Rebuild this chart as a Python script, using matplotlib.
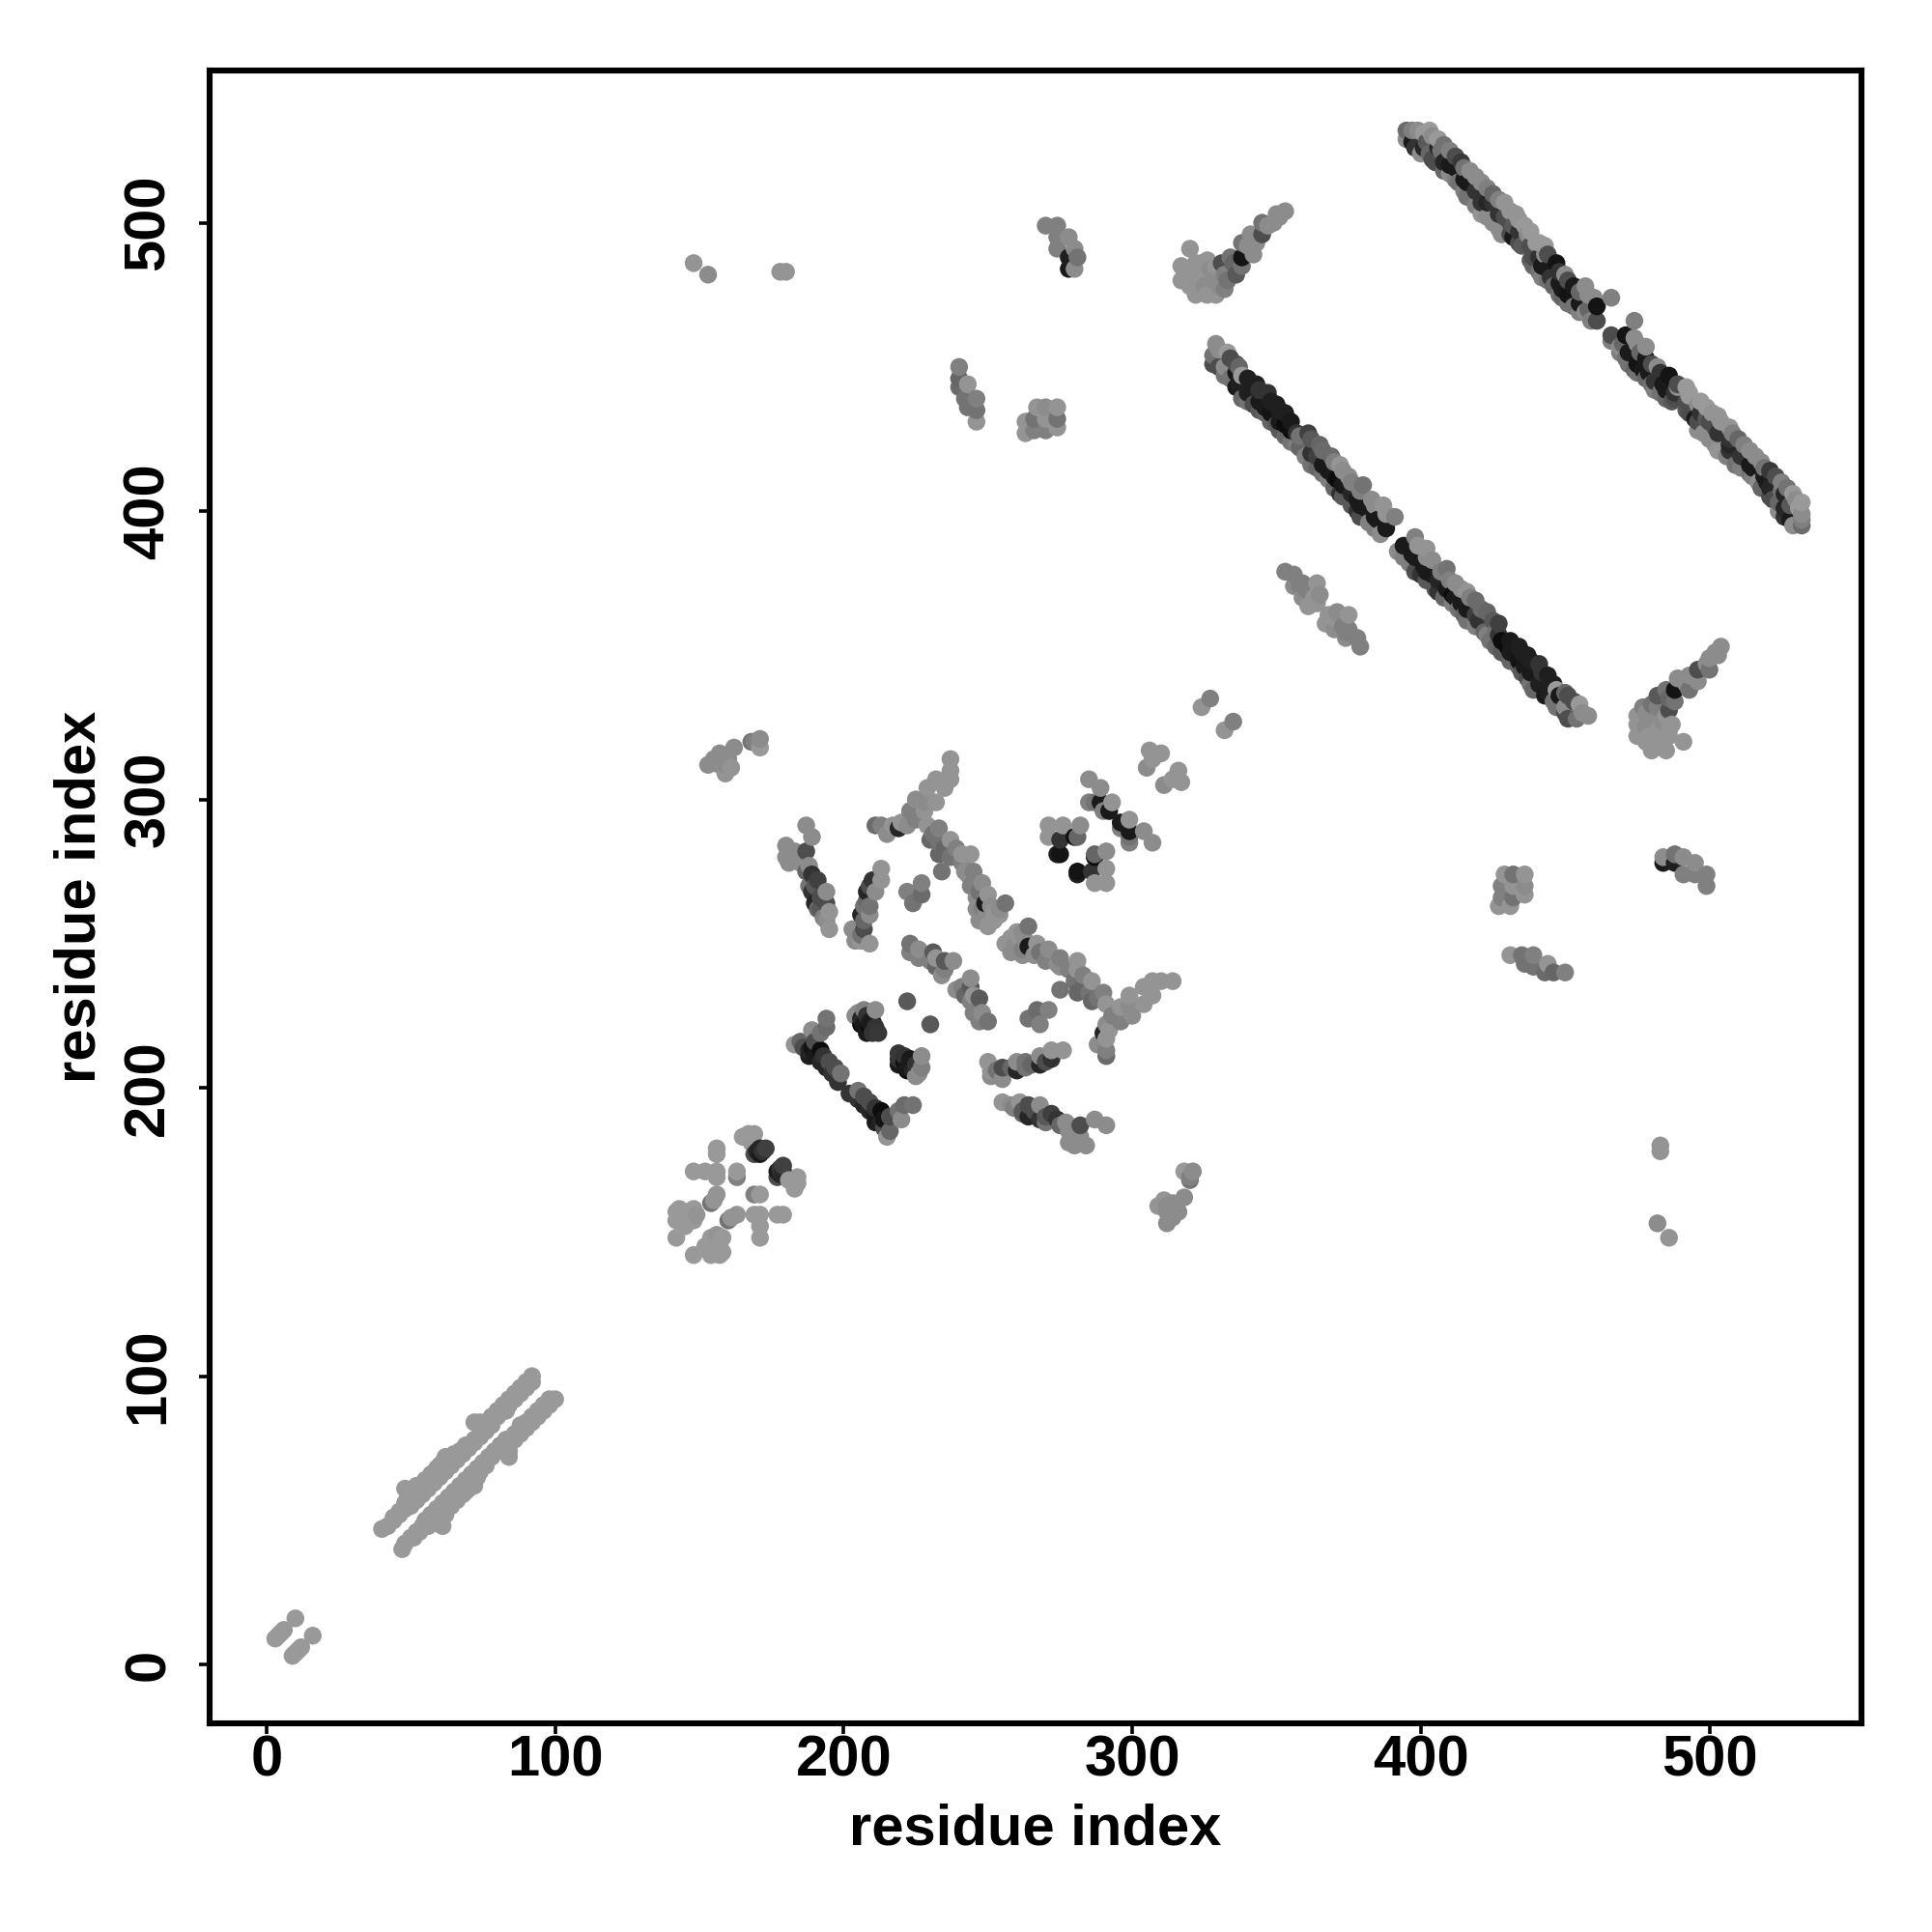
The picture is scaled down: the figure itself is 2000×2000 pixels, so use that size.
import numpy as np
from matplotlib import pyplot as plt

# contacts above the diagonal as (residue i, residue j, grey level), the map is symmetric
nterm = [(3, 9, .6), (4, 10, .6), (5, 11, .6), (6, 12, .6), (10, 16, .6)]

helix_a = [(40, 47, .6), (42, 48, .6), (44, 50, .6), (44, 51, .6), (46, 52, .6), (46, 53, .6),
           (48, 54, .6), (48, 56, .6), (48, 61, .6), (49, 58, .6), (50, 55, .6), (50, 56, .6),
           (51, 60, .6), (52, 57, .6), (52, 59, .6), (52, 62, .6), (53, 62, .6), (54, 59, .6),
           (54, 60, .6), (55, 64, .6), (56, 61, .6), (56, 62, .6), (57, 66, .6), (58, 63, .6),
           (58, 64, .6), (58, 66, .6), (59, 68, .6), (60, 65, .6), (60, 66, .6), (60, 69, .6),
           (61, 70, .6), (62, 67, .6), (62, 68, .6), (62, 72, .6), (63, 71, .6), (64, 69, .6),
           (64, 70, .6), (65, 73, .6), (66, 71, .6), (66, 73, .6), (67, 74, .6), (68, 73, .6),
           (69, 76, .6), (70, 75, .6), (70, 76, .6), (72, 77, .6), (72, 78, .6), (72, 84, .6),
           (74, 79, .6), (74, 80, .6), (74, 82, .6), (74, 84, .6), (76, 81, .6), (76, 82, .6),
           (76, 84, .6), (78, 83, .6), (78, 84, .6), (78, 86, .6), (80, 86, .6), (80, 88, .6),
           (82, 90, .6), (83, 88, .6), (84, 90, .6), (84, 92, .6), (86, 92, .6), (86, 94, .6),
           (88, 94, .6), (88, 96, .6), (90, 96, .6), (90, 98, .6), (92, 98, .6), (92, 100, .6)]

cluster_c = [(142, 157, .6), (142, 154, .6), (142, 148, .6), (145, 157, .6), (145, 152, .6),
             (148, 154, .6), (149, 156, .58), (148, 171, .6), (152, 171, .6), (156, 171, .6),
             (156, 169, .6), (156, 179, .6), (156, 177, .6), (143, 154, .6), (143, 158, .6),
             (148, 158, .6), (154, 160, .45), (155, 161, .58), (156, 163, .58), (163, 169, .5),
             (163, 171, .6), (165, 183, .6), (167, 184, .6), (169, 184, .6), (168, 181, .6),
             (169, 177, .3), (170, 178, .15), (171, 179, .15), (171, 177, .1), (172, 178, .2),
             (173, 179, .25)]

top_left = [(148, 486, .58), (153, 482, .55), (178, 483, .58), (180, 483, .58)]

strip_170 = [(153, 312, .55), (155, 314, .55), (157, 316, .55), (157, 312, .55), (159, 312, .55),
             (159, 309, .58), (160, 314, .55), (161, 311, .58), (162, 318, .55), (168, 320, .45),
             (169, 320, .5), (171, 321, .55), (171, 318, .6)]

feature_a = [(187, 291, .55), (189, 287, .55), (182, 282, .55), (180, 280, .55), (183, 282, .55),
             (180, 284, .55), (187, 282, .3), (185, 278, .55), (188, 277, .55), (181, 278, .55),
             (191, 272, .25), (189, 268, .2), (194, 268, .55), (194, 264, .3), (195, 261, .58),
             (192, 262, .35), (195, 255, .58), (187, 275, .4), (188, 270, .45), (190, 264, .15),
             (193, 259, .5), (189, 274, .2), (190, 270, .35), (192, 266, .3), (191, 262, .4),
             (194, 258, .55)]

feature_b = [(213, 276, .58), (213, 272, .58), (211, 268, .55), (210, 272, .2), (208, 268, .15),
             (207, 263, .45), (209, 263, .45), (206, 260, .15), (209, 260, .55), (207, 255, .3),
             (203, 255, .55), (206, 251, .58), (209, 250, .58), (204, 251, .55), (209, 270, .3),
             (208, 265, .4), (207, 258, .4), (206, 253, .45)]

feature_c = [(227, 271, .5), (222, 268, .5), (227, 267, .42), (224, 264, .45)]

feature_d = [(237, 314, .58), (237, 310, .58), (237, 307, .58), (232, 307, .58), (235, 304, .58),
             (229, 304, .58), (225, 300, .55), (228, 299, .55), (232, 299, .58), (223, 296, .5),
             (228, 296, .58), (220, 292, .58), (225, 293, .5), (211, 291, .42), (213, 291, .5),
             (217, 291, .58), (215, 288, .55), (219, 290, .15), (222, 291, .55)]

feature_e = [(229, 291, .58), (233, 290, .5), (230, 286, .4), (237, 286, .58), (233, 285, .45),
             (233, 281, .4), (237, 280, .45), (241, 281, .58), (244, 281, .58), (234, 275, .45),
             (245, 275, .5), (242, 275, .55), (248, 271, .55), (244, 270, .5), (246, 266, .55),
             (250, 267, .58), (248, 262, .5), (247, 258, .55), (250, 256, .58), (252, 261, .58),
             (256, 264, .45), (251, 263, .55), (254, 260, .58), (231, 288, .45), (235, 283, .4),
             (239, 283, .5), (241, 278, .5), (243, 274, .55), (245, 271, .5), (246, 262, .55),
             (249, 259, .55), (252, 258, .58), (249, 264, .1), (254, 262, .55), (247, 268, .45)]

feature_g = [(194, 224, .45), (194, 221, .42), (189, 220, .55), (192, 219, .45), (183, 215, .58),
             (186, 214, .3), (188, 213, .15), (192, 213, .05), (188, 211, .12), (195, 209, .3),
             (192, 209, .15), (199, 205, .45), (196, 205, .2), (198, 202, .2), (185, 216, .4),
             (189, 214, .08), (190, 211, .1), (193, 211, .2), (194, 207, .15), (197, 207, .3),
             (190, 216, .3)]

feature_g2 = [(211, 227, .55), (207, 227, .5), (204, 225, .55), (212, 219, .22), (209, 223, .12),
              (207, 222, .1), (206, 224, .15), (208, 219, .1), (222, 230, .35), (205, 226, .55),
              (208, 225, .2), (210, 223, .1), (209, 221, .05), (211, 221, .2), (210, 219, .2),
              (206, 222, .05)]

feature_h = [(223, 250, .45), (226, 248, .55), (223, 247, .5), (231, 247, .35), (226, 245, .5),
             (230, 244, .5), (235, 244, .35), (238, 244, .55), (235, 241, .5), (232, 245, .58),
             (232, 242, .4), (234, 239, .55)]

group_240 = [(240, 450, .5), (240, 446, .4), (240, 443, .42), (243, 444, .58), (242, 439, .45),
             (246, 439, .5), (246, 435, .45), (246, 431, .58), (243, 436, .45)]

group_270 = [(267, 436, .58), (270, 436, .55), (274, 436, .58), (274, 432, .45), (274, 429, .58),
             (270, 432, .58), (266, 432, .45), (270, 428, .5), (263, 431, .58), (263, 427, .58),
             (266, 428, .5)]

group_275 = [(270, 499, .5), (274, 499, .5), (278, 495, .55), (274, 495, .5), (274, 491, .5),
             (280, 491, .55), (281, 488, .45), (278, 484, .1), (280, 484, .55), (278, 488, .12)]

x_cross = [(271, 291, .58), (276, 291, .58), (282, 291, .55), (271, 287, .58), (275, 286, .2),
           (275, 281, .08), (274, 281, .12), (280, 287, .05), (281, 287, .4)]

group_290 = [(285, 307, .55), (289, 304, .55), (287, 299, .45), (289, 299, .1), (293, 299, .58),
             (290, 296, .5), (292, 296, .1), (285, 299, .5)]

group_308 = [(305, 311, .55), (306, 317, .58), (307, 314, .58), (310, 316, .58)]

group_325 = [(327, 335, .5), (324, 332, .58)]

arm_330 = [(320, 491, .58), (317, 485, .58), (317, 480, .58), (322, 486, .58), (322, 475, .58),
           (326, 475, .58), (329, 475, .58), (327, 484, .55), (324, 482, .58), (322, 479, .58),
           (332, 477, .5), (331, 486, .3), (334, 488, .45), (336, 482, .35), (332, 482, .5),
           (338, 485, .45), (338, 488, .08), (338, 493, .45), (342, 489, .55), (341, 496, .55),
           (345, 500, .45), (345, 496, .3), (350, 503, .55), (353, 504, .55), (319, 483, .58),
           (320, 478, .58), (324, 486, .58), (325, 478, .55), (328, 480, .55), (330, 478, .55),
           (326, 487, .58), (329, 485, .58), (333, 480, .45), (335, 486, .4), (340, 492, .55),
           (343, 493, .55), (347, 499, .55), (349, 500, .55), (351, 502, .55)]

group_360 = [(353, 379, .5), (356, 378, .5), (356, 374, .55), (359, 375, .5), (359, 370, .55),
             (361, 367, .58), (364, 375, .58), (363, 370, .58), (364, 368, .58), (365, 371, .55),
             (358, 374, .5), (360, 373, .5)]

strand_low = [(328, 451, .3), (328, 454, .45), (329, 458, .55), (330, 450, .3), (330, 456, .55),
              (332, 447, .45), (332, 450, .55), (333, 455, .6), (334, 446, .45), (334, 453, .3),
              (336, 443, .1), (336, 448, .1), (336, 451, .3), (337, 444, .12), (337, 450, .4),
              (338, 439, .4), (338, 447, .6), (340, 438, .45), (340, 441, .12), (340, 446, .12),
              (342, 437, .3), (343, 444, .12), (344, 435, .35), (344, 438, .1), (344, 442, .2),
              (346, 434, .4), (346, 436, .1), (347, 441, .2), (348, 431, .4), (348, 434, .08),
              (348, 438, .12), (350, 430, .35), (350, 437, .12), (351, 428, .35), (351, 431, .1),
              (351, 435, .12), (353, 426, .4), (353, 430, .05), (353, 434, .12), (355, 424, .45),
              (355, 428, .05), (355, 431, .1), (357, 423, .5), (357, 427, .2), (358, 422, .4),
              (358, 426, .45), (360, 419, .5), (361, 427, .25), (362, 416, .45), (362, 420, .2),
              (362, 425, .35), (364, 415, .4), (364, 419, .25), (365, 423, .4), (366, 413, .45),
              (366, 416, .1), (366, 421, .42), (368, 411, .5), (368, 414, .1), (369, 419, .42),
              (370, 408, .4), (370, 412, .1), (370, 417, .5), (371, 411, .05), (372, 406, .2),
              (372, 416, .58), (373, 405, .35), (373, 409, .1), (373, 414, .55), (375, 412, .55),
              (376, 402, .35), (376, 406, .15), (376, 410, .5), (378, 400, .2), (378, 404, .1),
              (379, 398, .3), (379, 402, .1), (379, 407, .5), (380, 409, .45), (381, 401, .1),
              (382, 396, .5), (383, 404, .55), (384, 394, .5), (384, 398, .1), (384, 402, .55),
              (385, 397, .1), (386, 392, .55), (387, 402, .58), (388, 394, .1), (388, 399, .58),
              (391, 398, .5)]

strand_high = [(395, 532, .42), (395, 529, .55), (397, 528, .1), (397, 532, .5), (398, 526, .2),
               (399, 532, .55), (400, 524, .55), (401, 526, .15), (401, 531, .6), (402, 528, .35),
               (403, 524, .4), (403, 532, .6), (404, 522, .3), (404, 530, .55), (405, 521, .3),
               (406, 526, .15), (406, 529, .6), (407, 525, .45), (408, 518, .4), (408, 521, .15),
               (408, 527, .45), (410, 517, .55), (410, 520, .1), (410, 525, .5), (412, 515, .5),
               (412, 519, .1), (412, 523, .3), (413, 514, .45), (414, 521, .22), (415, 511, .5),
               (415, 515, .1), (415, 519, .45), (416, 509, .45), (416, 514, .1), (417, 518, .55),
               (419, 506, .5), (419, 511, .2), (419, 516, .55), (421, 503, .58), (421, 507, .2),
               (421, 514, .55), (423, 502, .55), (423, 507, .15), (423, 512, .5), (425, 500, .55),
               (425, 507, .2), (425, 510, .4), (427, 498, .55), (427, 503, .2), (427, 508, .5),
               (428, 496, .55), (429, 502, .3), (429, 507, .58), (431, 496, .3), (431, 500, .3),
               (431, 504, .58), (432, 495, .1), (432, 499, .35), (433, 503, .58), (434, 493, .3),
               (434, 497, .2), (434, 501, .58), (435, 492, .35), (436, 499, .6), (437, 496, .55),
               (438, 487, .35), (438, 492, .3), (438, 497, .6), (439, 485, .4), (439, 488, .3),
               (440, 493, .6), (441, 483, .45), (441, 488, .2), (441, 493, .6), (442, 481, .5),
               (442, 485, .1), (443, 489, .55), (443, 492, .6), (444, 480, .45), (444, 484, .1),
               (444, 489, .3), (445, 481, .2), (446, 478, .4), (447, 486, .08), (448, 475, .45),
               (448, 479, .1), (448, 483, .2), (449, 474, .4), (449, 477, .1), (450, 482, .55),
               (451, 472, .45), (451, 475, .08), (451, 480, .3), (453, 471, .45), (453, 478, .1),
               (455, 469, .5), (455, 472, .1), (455, 476, .4), (457, 469, .55), (457, 478, .55),
               (458, 470, .4), (458, 475, .55), (459, 466, .5), (460, 474, .55), (461, 466, .3),
               (461, 471, .08), (466, 474, .5)]

all_groups = [nterm, helix_a, cluster_c, top_left, strip_170, feature_a, feature_b, feature_c,
              feature_d, feature_e, feature_g, feature_g2, feature_h, group_240, group_270,
              group_275, x_cross, group_290, group_308, group_325, arm_330, group_360,
              strand_low, strand_high]

tick_values = [0, 100, 200, 300, 400, 500]

contacts = np.array([c for group in all_groups for c in group])
res_i = np.concatenate([contacts[:, 0], contacts[:, 1]])
res_j = np.concatenate([contacts[:, 1], contacts[:, 0]])
grey = np.concatenate([contacts[:, 2], contacts[:, 2]])

# later residues were drawn over earlier ones
order = np.lexsort((res_j, res_i))

plt.rcParams['font.family'] = ['Liberation Sans', 'DejaVu Sans']
plt.rcParams['font.weight'] = 'bold'

fig = plt.figure(figsize=(10, 10), dpi=200)
ax = fig.add_axes([216.5 / 2000, 1 - 1784 / 2000, (1927 - 216.5) / 2000, (1784 - 72.7) / 2000])

ax.scatter(res_i[order], res_j[order], s=44, c=[str(g) for g in grey[order]], linewidths=0)

ax.set_xlim(-19.9, 552.7)
ax.set_ylim(-20.4, 552.9)
ax.set_xticks(tick_values)
ax.set_yticks(tick_values)
ax.tick_params(length=4, width=1.3, labelsize=21.5)
ax.tick_params(axis='x', pad=0)
ax.tick_params(axis='y', pad=8.5)
plt.setp(ax.get_yticklabels(), rotation=90, va='center')
for spine in ax.spines.values():
    spine.set_linewidth(2.2)

ax.set_xlabel("residue index", fontsize=21.5, fontweight='bold')
ax.set_ylabel("residue index", fontsize=21.5, fontweight='bold')
ax.xaxis.set_label_coords(0.5, -0.0485)
ax.yaxis.set_label_coords(-0.062, 0.5)

fig.savefig("out.png", dpi=200)
